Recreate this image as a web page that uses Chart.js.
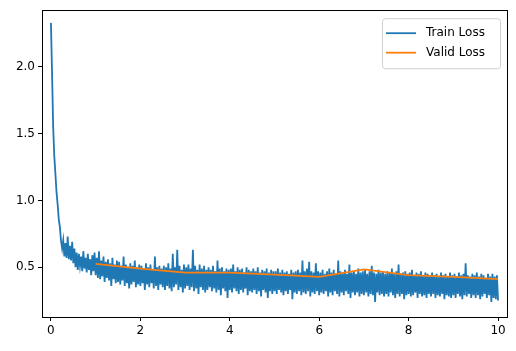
<!DOCTYPE html>
<html>
<head>
<meta charset="utf-8">
<script src="https://cdn.jsdelivr.net/npm/chart.js@4.4.1/dist/chart.umd.min.js"></script>
<style>
  html, body { margin: 0; padding: 0; background: #fff; }
  #wrap { width: 516px; height: 351px; position: relative; }
</style>
</head>
<body>
<div id="wrap"><canvas id="lossChart"></canvas></div>
<script>
// Train loss (40 steps per epoch, 0..10)
const trainStepsPerEpoch = 40;
const trainLoss = [
  2.33, 1.95, 1.55, 1.33, 1.20, 1.06, 0.97, 0.86, 0.80, 0.70, 0.64, 0.70, 0.58, 0.68, 0.57, 0.73, 0.56, 0.66, 0.55, 0.69,
  0.53, 0.64, 0.50, 0.61, 0.48, 0.60, 0.51, 0.58, 0.47, 0.62, 0.49, 0.57, 0.46, 0.60, 0.48, 0.56, 0.44, 0.59, 0.47, 0.61,
  0.44, 0.57, 0.42, 0.62, 0.41, 0.55, 0.43, 0.58, 0.39, 0.54, 0.42, 0.56, 0.40, 0.53, 0.36, 0.57, 0.41, 0.52, 0.38, 0.55,
  0.39, 0.54, 0.37, 0.51, 0.40, 0.58, 0.36, 0.52, 0.38, 0.50, 0.34, 0.53, 0.37, 0.51, 0.39, 0.55, 0.35, 0.50, 0.37, 0.52,
  0.36, 0.51, 0.38, 0.49, 0.33, 0.53, 0.37, 0.50, 0.35, 0.52, 0.38, 0.48, 0.34, 0.58, 0.36, 0.50, 0.33, 0.51, 0.37, 0.49,
  0.35, 0.51, 0.33, 0.50, 0.36, 0.53, 0.34, 0.49, 0.32, 0.60, 0.35, 0.50, 0.37, 0.63, 0.33, 0.51, 0.35, 0.48, 0.31, 0.52,
  0.34, 0.50, 0.36, 0.52, 0.33, 0.49, 0.35, 0.63, 0.32, 0.51, 0.34, 0.48, 0.30, 0.52, 0.35, 0.49, 0.33, 0.51, 0.31, 0.48,
  0.33, 0.50, 0.35, 0.48, 0.32, 0.51, 0.34, 0.47, 0.31, 0.55, 0.33, 0.49, 0.29, 0.50, 0.34, 0.47, 0.32, 0.49, 0.27, 0.48,
  0.33, 0.49, 0.31, 0.52, 0.34, 0.47, 0.32, 0.50, 0.30, 0.48, 0.33, 0.49, 0.31, 0.46, 0.34, 0.50, 0.29, 0.48, 0.32, 0.47,
  0.31, 0.49, 0.33, 0.47, 0.30, 0.50, 0.32, 0.46, 0.28, 0.48, 0.33, 0.47, 0.31, 0.49, 0.27, 0.46, 0.32, 0.48, 0.30, 0.47,
  0.32, 0.47, 0.30, 0.49, 0.33, 0.46, 0.31, 0.48, 0.29, 0.46, 0.32, 0.47, 0.30, 0.45, 0.33, 0.48, 0.26, 0.46, 0.31, 0.47,
  0.30, 0.48, 0.32, 0.46, 0.29, 0.55, 0.31, 0.47, 0.30, 0.49, 0.32, 0.54, 0.28, 0.47, 0.31, 0.46, 0.30, 0.53, 0.32, 0.47,
  0.29, 0.46, 0.31, 0.48, 0.30, 0.45, 0.32, 0.47, 0.28, 0.49, 0.31, 0.46, 0.29, 0.48, 0.32, 0.45, 0.30, 0.55, 0.28, 0.47,
  0.31, 0.46, 0.29, 0.48, 0.32, 0.45, 0.30, 0.52, 0.27, 0.46, 0.31, 0.47, 0.29, 0.45, 0.31, 0.49, 0.28, 0.46, 0.30, 0.47,
  0.29, 0.48, 0.31, 0.45, 0.28, 0.47, 0.30, 0.51, 0.29, 0.46, 0.24, 0.45, 0.31, 0.48, 0.29, 0.46, 0.30, 0.47, 0.28, 0.45,
  0.30, 0.47, 0.28, 0.46, 0.31, 0.49, 0.29, 0.45, 0.27, 0.47, 0.30, 0.52, 0.28, 0.45, 0.30, 0.46, 0.26, 0.47, 0.29, 0.45,
  0.30, 0.46, 0.28, 0.48, 0.29, 0.44, 0.31, 0.46, 0.27, 0.45, 0.30, 0.47, 0.28, 0.44, 0.29, 0.46, 0.27, 0.45, 0.30, 0.44,
  0.28, 0.46, 0.30, 0.44, 0.27, 0.45, 0.29, 0.43, 0.28, 0.46, 0.30, 0.44, 0.26, 0.45, 0.29, 0.43, 0.28, 0.46, 0.27, 0.44,
  0.29, 0.45, 0.27, 0.43, 0.30, 0.46, 0.28, 0.44, 0.26, 0.45, 0.29, 0.53, 0.28, 0.44, 0.30, 0.43, 0.27, 0.45, 0.29, 0.44,
  0.27, 0.46, 0.29, 0.43, 0.26, 0.45, 0.28, 0.44, 0.30, 0.42, 0.27, 0.45, 0.29, 0.43, 0.24, 0.45, 0.27, 0.43, 0.26, 0.44,
  0.25
];

// Validation loss, one point per epoch
const validEpochs = [1, 2, 3, 4, 5, 6, 7, 8, 9, 10];
const validLoss = [0.525, 0.49, 0.46, 0.46, 0.445, 0.428, 0.483, 0.44, 0.428, 0.41];

const xTicks = [0, 2, 4, 6, 8, 10];
const yTicks = [0.5, 1.0, 1.5, 2.0];

const trainColor = '#1f77b4';
const validColor = '#ff7f0e';
const fontFamily = '"DejaVu Sans", sans-serif';

// matplotlib-like frame around the plot area
const framePlugin = {
  id: 'frame',
  afterDraw(chart) {
    const { ctx, chartArea: a } = chart;
    ctx.save();
    ctx.strokeStyle = '#000';
    ctx.lineWidth = 1;
    ctx.strokeRect(Math.round(a.left) + 0.5, Math.round(a.top) + 0.5,
      Math.round(a.right - a.left), Math.round(a.bottom - a.top));
    ctx.restore();
  }
};

// legend box in the upper right corner, like matplotlib's
const legendBoxPlugin = {
  id: 'legendBox',
  afterDraw(chart) {
    const { ctx, chartArea: a } = chart;
    const sets = chart.data.datasets;
    const boxW = 118, rowH = 19.5;
    const boxH = sets.length * rowH + 11;
    const x0 = a.right - 7 - boxW, y0 = a.top + 8;
    ctx.save();
    ctx.beginPath();
    ctx.roundRect(x0 + 0.5, y0 + 0.5, boxW, boxH, 3);
    ctx.fillStyle = 'rgba(255,255,255,0.8)';
    ctx.fill();
    ctx.strokeStyle = '#d0d0d0';
    ctx.lineWidth = 1;
    ctx.stroke();
    ctx.font = '12px ' + fontFamily;
    ctx.textBaseline = 'middle';
    sets.forEach((ds, i) => {
      const y = y0 + 15 + i * rowH;
      ctx.beginPath();
      ctx.moveTo(x0 + 4, y);
      ctx.lineTo(x0 + 34, y);
      ctx.strokeStyle = ds.borderColor;
      ctx.lineWidth = 1.8;
      ctx.stroke();
      ctx.fillStyle = '#000';
      ctx.fillText(ds.label, x0 + 44, y);
    });
    ctx.restore();
  }
};

new Chart(document.getElementById('lossChart'), {
  type: 'line',
  data: {
    datasets: [
      {
        label: 'Train Loss',
        data: trainLoss.map((v, i) => ({ x: i / trainStepsPerEpoch, y: v })),
        borderColor: trainColor,
        borderWidth: 1.8,
        pointRadius: 0,
        tension: 0,
        order: 2
      },
      {
        label: 'Valid Loss',
        data: validEpochs.map((e, i) => ({ x: e, y: validLoss[i] })),
        borderColor: validColor,
        borderWidth: 1.8,
        pointRadius: 0,
        tension: 0,
        order: 1
      }
    ]
  },
  options: {
    responsive: true,
    maintainAspectRatio: false,
    animation: false,
    layout: { padding: { left: 0, top: 9, right: 9, bottom: 0 } },
    plugins: {
      legend: { display: false },
      tooltip: { enabled: false }
    },
    scales: {
      x: {
        type: 'linear',
        min: -0.2,
        max: 10.2,
        afterBuildTicks: scale => { scale.ticks = xTicks.map(v => ({ value: v })); },
        afterFit: scale => { scale.height = 34; },
        grid: { drawOnChartArea: false, tickLength: 4, color: '#000' },
        border: { display: true, color: '#000' },
        ticks: {
          color: '#000',
          font: { family: fontFamily, size: 12 },
          padding: 3,
          maxRotation: 0,
          callback: v => String(v)
        }
      },
      y: {
        type: 'linear',
        min: 0.127,
        max: 2.425,
        afterBuildTicks: scale => { scale.ticks = yTicks.map(v => ({ value: v })); },
        afterFit: scale => { scale.width = 42; },
        grid: { drawOnChartArea: false, tickLength: 4, color: '#000' },
        border: { display: true, color: '#000' },
        ticks: {
          color: '#000',
          font: { family: fontFamily, size: 12 },
          padding: 3,
          callback: v => v.toFixed(1)
        }
      }
    }
  },
  plugins: [framePlugin, legendBoxPlugin]
});
</script>
</body>
</html>
